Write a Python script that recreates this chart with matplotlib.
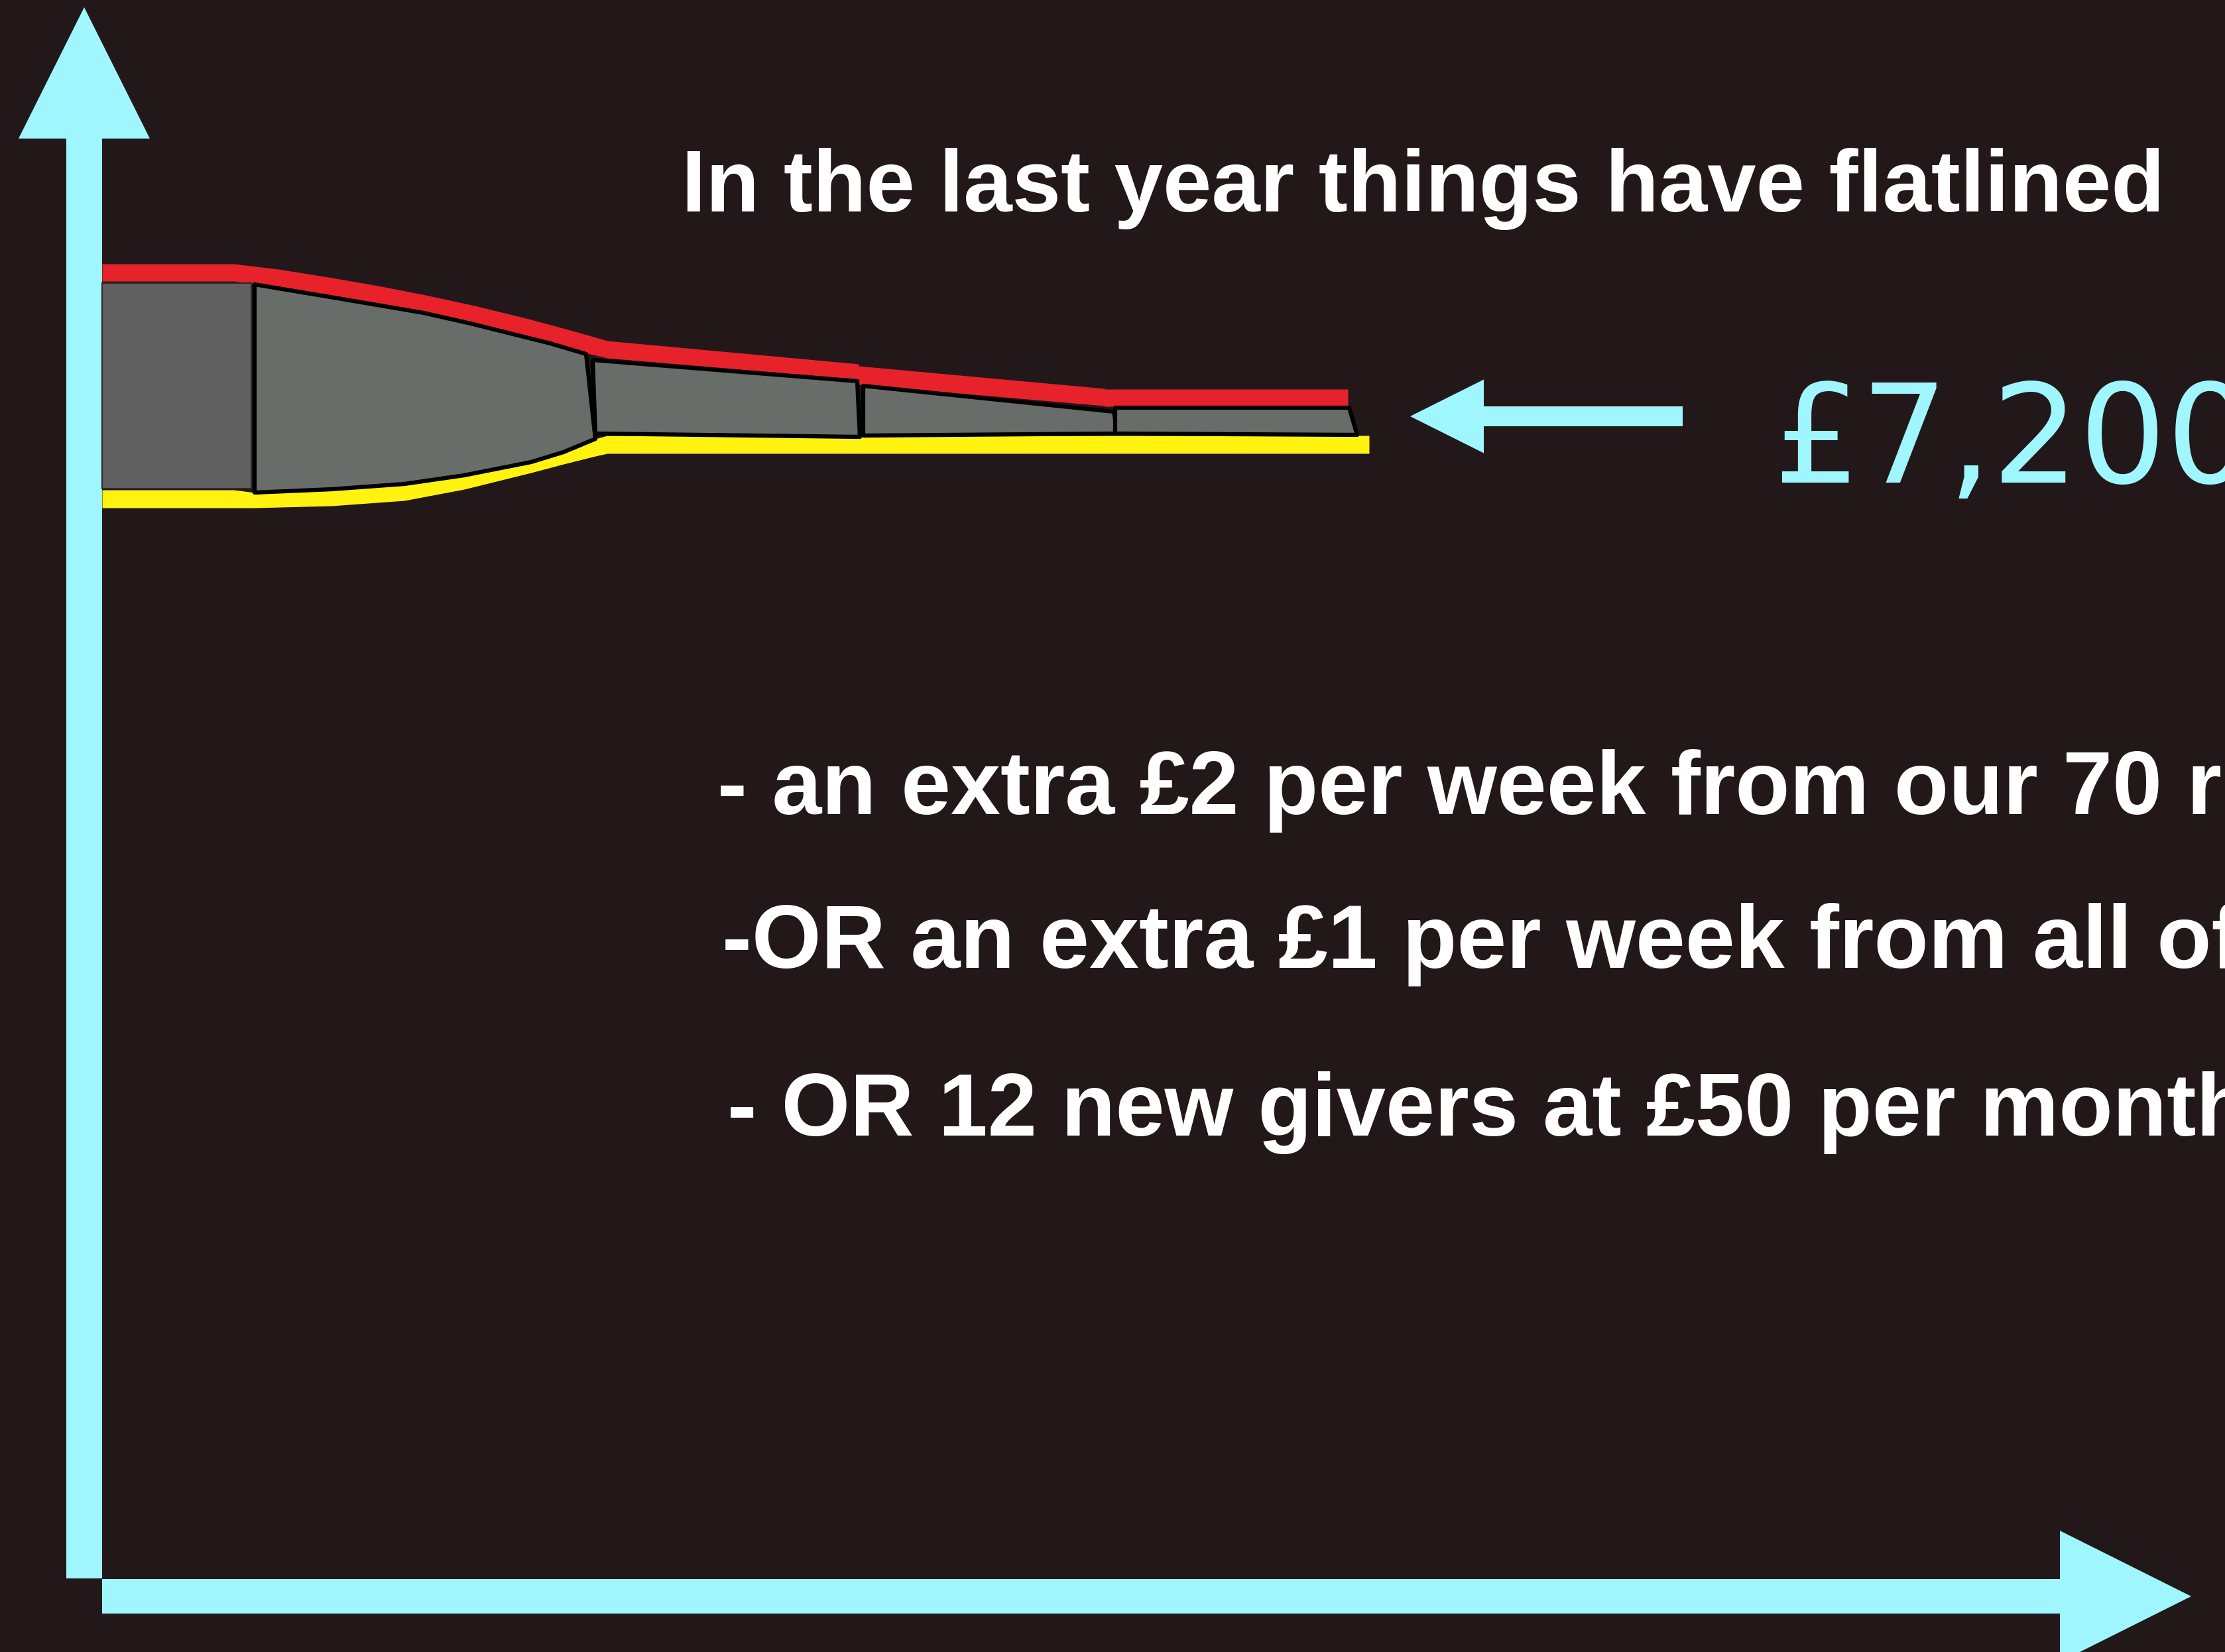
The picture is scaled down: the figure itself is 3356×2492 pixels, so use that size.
import matplotlib.pyplot as plt
from matplotlib.patches import Polygon, FancyArrow

# canvas in pixels (y grows downward)
W, H = 3356, 2492

bg = '#221819'
cyan = '#a0f6ff'
red = '#e8222a'
yellow = '#fff30f'
grey = '#686d69'
grey_old = '#606060'

# red (top) band of the giving "river"
red_x = [154, 353, 420, 495, 570, 642, 720, 801, 860, 916, 1295, 1295, 1666, 1666, 2033]
red_top = [398, 398, 406, 418, 431, 445, 462, 482, 498, 514, 549, 552, 586, 587, 587]
red_bottom = [424, 424, 434, 446, 459, 472, 490, 512, 527, 540, 572, 580, 612, 613, 613]

# yellow (bottom) band
yellow_x = [154, 353, 384, 500, 610, 700, 801, 850, 898, 916, 2065]
yellow_top = [739, 739, 743, 738, 730, 717, 697, 682, 662, 657, 657]
yellow_bottom = [766, 766, 766, 763, 755, 738, 713, 700, 688, 684, 684]

# grey blocks, one per period
block_1 = [(154, 427), (379, 427), (379, 737), (154, 737)]
block_2 = [(384, 429), (510, 450), (639, 472), (710, 488), (770, 503),
           (830, 518), (884, 534), (898, 662), (850, 682), (801, 697),
           (700, 717), (610, 730), (500, 738), (384, 743)]
block_3 = [(894, 543), (1293, 575), (1297, 659), (898, 654)]
block_4 = [(1302, 582), (1680, 621), (1686, 654), (1302, 657)]
block_5 = [(1682, 615), (2035, 615), (2047, 656), (1682, 654)]

title = "In the last year things have flatlined"
amount = "£7,200"
options = [
    "- an extra £2 per week from our 70 regular givers",
    "-OR an extra £1 per week from all of our givers",
    "- OR 12 new givers at £50 per month",
]

fig = plt.figure(figsize=(W / 100, H / 100), dpi=100)
fig.patch.set_facecolor(bg)
ax = fig.add_axes([0, 0, 1, 1])
ax.set_xlim(0, W)
ax.set_ylim(H, 0)
ax.axis('off')
ax.set_facecolor(bg)

# axes arrows
ax.add_patch(FancyArrow(127, 2381, 0, 11 - 2381, width=54, head_width=198,
                        head_length=198, length_includes_head=True,
                        color=cyan, lw=0))
ax.add_patch(FancyArrow(154, 2408, 3305 - 154, 0, width=52, head_width=198,
                        head_length=198, length_includes_head=True,
                        color=cyan, lw=0))

# bands
ax.fill_between(red_x, red_top, red_bottom, color=red, lw=0, zorder=2)
ax.fill_between(yellow_x, yellow_top, yellow_bottom, color=yellow, lw=0, zorder=2)

# blocks
ax.add_patch(Polygon(block_1, closed=True, facecolor=grey_old,
                     edgecolor='#2a2a2a', lw=1.5, zorder=3))
for blk in [block_2, block_3, block_4, block_5]:
    ax.add_patch(Polygon(blk, closed=True, facecolor=grey,
                         edgecolor='black', lw=4.5, joinstyle='round', zorder=3))

# pointer arrow to the amount
ax.add_patch(FancyArrow(2538, 628, 2127 - 2538, 0, width=30, head_width=111,
                        head_length=111, length_includes_head=True,
                        color=cyan, lw=0))

bold = dict(family=['Liberation Sans', 'DejaVu Sans'], fontweight='bold',
            color='white', ha='left', va='baseline')

ax.text(1028, 319, title, fontsize=95, **bold)
ax.text(2675, 728, amount, fontsize=149, color=cyan, ha='left',
        va='baseline', family=['DejaVu Sans'])

ax.text(1082, 1228, options[0], fontsize=97, **bold)
ax.text(1089, 1460, options[1], fontsize=97, **bold)
ax.text(1097, 1713, options[2], fontsize=96, **bold)

fig.savefig('out.png', dpi=100, facecolor=bg)
